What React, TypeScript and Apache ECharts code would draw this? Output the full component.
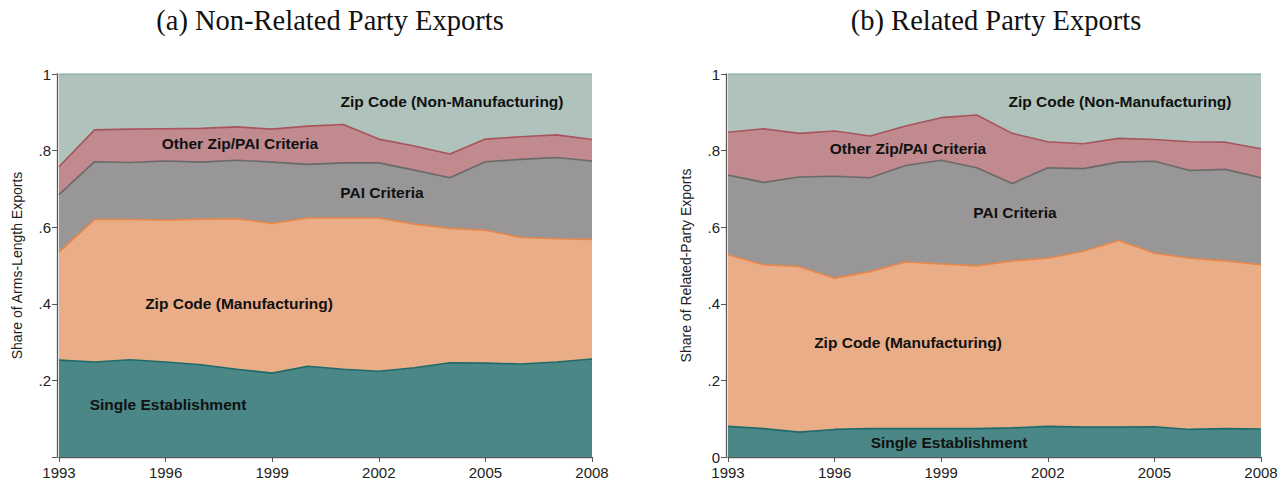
import React, { useEffect, useRef } from "react";
import * as echarts from "echarts";

const years = ["1993","1994","1995","1996","1997","1998","1999","2000","2001","2002","2003","2004","2005","2006","2007","2008"];

// (a) Non-Related Party Exports — shares by category
const aSingle = [0.253,0.248,0.254,0.248,0.241,0.229,0.219,0.237,0.229,0.224,0.233,0.246,0.245,0.243,0.248,0.256];
const aZipMfg = [0.282,0.372,0.366,0.370,0.380,0.393,0.391,0.387,0.395,0.400,0.375,0.351,0.347,0.330,0.322,0.312];
const aPAI = [0.150,0.151,0.149,0.155,0.149,0.153,0.160,0.140,0.144,0.144,0.141,0.132,0.179,0.204,0.212,0.205];
const aOther = [0.073,0.083,0.087,0.084,0.088,0.087,0.086,0.100,0.100,0.062,0.063,0.062,0.059,0.059,0.059,0.056];
const aZipNonMfg = [0.242,0.146,0.144,0.143,0.142,0.138,0.144,0.136,0.132,0.170,0.188,0.209,0.170,0.164,0.159,0.171];

// (b) Related Party Exports — shares by category
const bSingle = [0.080,0.074,0.065,0.072,0.074,0.074,0.074,0.074,0.076,0.080,0.078,0.078,0.079,0.072,0.074,0.073];
const bZipMfg = [0.448,0.428,0.432,0.395,0.410,0.435,0.430,0.425,0.436,0.439,0.459,0.487,0.453,0.447,0.438,0.429];
const bPAI = [0.208,0.215,0.234,0.266,0.245,0.252,0.271,0.256,0.202,0.236,0.216,0.205,0.240,0.229,0.239,0.227];
const bOther = [0.112,0.140,0.114,0.118,0.109,0.103,0.111,0.138,0.131,0.068,0.065,0.062,0.057,0.075,0.071,0.076];
const bZipNonMfg = [0.152,0.143,0.155,0.149,0.162,0.136,0.114,0.107,0.155,0.177,0.182,0.168,0.171,0.177,0.178,0.195];

const seriesNames = ["Single Establishment","Zip Code (Manufacturing)","PAI Criteria","Other Zip/PAI Criteria","Zip Code (Non-Manufacturing)"];
const titles = ["(a) Non-Related Party Exports","(b) Related Party Exports"];
const yTitles = ["Share of Arms-Length Exports","Share of Related-Party Exports"];

const fills = ["#4a8786","#e9ae88","#989696","#c08a8e","#afc3bc"];
const lines = ["#1f6a6a","#e8874a","#6a6a6a","#a8545c","#8cada3"];

export default function App() {
  const ref = useRef<HTMLDivElement>(null);
  useEffect(() => {
    if (!ref.current) return;
    const chart = echarts.init(ref.current, null, { renderer: "svg" });
    const dataA = [aSingle, aZipMfg, aPAI, aOther, aZipNonMfg];
    const dataB = [bSingle, bZipMfg, bPAI, bOther, bZipNonMfg];
    const mk = (data: number[][], idx: number) =>
      data.map((d, i) => ({
        name: seriesNames[i],
        type: "line",
        xAxisIndex: idx,
        yAxisIndex: idx,
        stack: "s" + idx,
        data: d,
        symbol: "none",
        lineStyle: { color: lines[i], width: 1.6 },
        areaStyle: { color: fills[i], opacity: 1 },
        z: 2,
      }));
    const sans = "Liberation Sans, Arial, sans-serif";
    const yLabel = (hideZero: boolean) => (v: number) => {
      if (v === 0) return hideZero ? "" : "0";
      if (v === 1) return "1";
      return "." + Math.round(v * 10);
    };
    const xAxis = (gi: number) => ({
      type: "category",
      gridIndex: gi,
      data: years,
      boundaryGap: false,
      offset: 2,
      axisLine: { lineStyle: { color: "#555", width: 1.3 } },
      axisTick: { interval: 2, length: 5, lineStyle: { color: "#555" } },
      axisLabel: { interval: 2, color: "#222", fontSize: 15, fontFamily: sans, margin: 6 },
      splitLine: { show: false },
    });
    const yAxis = (gi: number) => ({
      type: "value",
      gridIndex: gi,
      min: 0,
      max: 1,
      interval: 0.2,
      offset: 2,
      name: yTitles[gi],
      nameLocation: "middle",
      nameGap: 33,
      nameTextStyle: { color: "#222", fontSize: 14, fontFamily: sans },
      axisLine: { show: true, lineStyle: { color: "#555", width: 1.3 } },
      axisTick: { show: true, length: 5, lineStyle: { color: "#555" } },
      axisLabel: { formatter: yLabel(gi === 0), color: "#222", fontSize: 15, fontFamily: sans, margin: 6 },
      splitLine: { show: false },
    });
    const lbl = (text: string, x: number, y: number) => ({
      type: "text",
      x,
      y,
      z: 100,
      style: {
        text,
        fill: "#111",
        font: "bold 15.5px Liberation Sans, Arial, sans-serif",
        align: "center",
        verticalAlign: "middle",
      },
    });
    const titleStyle = { fontFamily: "Liberation Serif, serif", fontWeight: "normal", fontSize: 28.5, color: "#111" };
    chart.setOption({
      animation: false,
      backgroundColor: "#fff",
      title: [
        { text: titles[0], left: 325, top: 1, textAlign: "center", textStyle: titleStyle },
        { text: titles[1], left: 991, top: 1, textAlign: "center", textStyle: titleStyle },
      ],
      grid: [
        { left: 59, right: 695, top: 74, bottom: 28 },
        { left: 728, right: 26, top: 74, bottom: 28 },
      ],
      xAxis: [xAxis(0), xAxis(1)],
      yAxis: [yAxis(0), yAxis(1)],
      series: [...mk(dataA, 0), ...mk(dataB, 1)],
      graphic: [
        lbl("Zip Code (Non-Manufacturing)", 452, 101),
        lbl("Other Zip/PAI Criteria", 240, 143),
        lbl("PAI Criteria", 382, 192),
        lbl("Zip Code (Manufacturing)", 239, 303),
        lbl("Single Establishment", 168, 404),
        lbl("Zip Code (Non-Manufacturing)", 1120, 101),
        lbl("Other Zip/PAI Criteria", 908, 148),
        lbl("PAI Criteria", 1015, 212),
        lbl("Zip Code (Manufacturing)", 908, 342),
        lbl("Single Establishment", 949, 442),
      ],
    });
    return () => chart.dispose();
  }, []);
  return <div ref={ref} style={{ width: 1287, height: 485, position: "absolute", left: 0, top: 0 }} />;
}
